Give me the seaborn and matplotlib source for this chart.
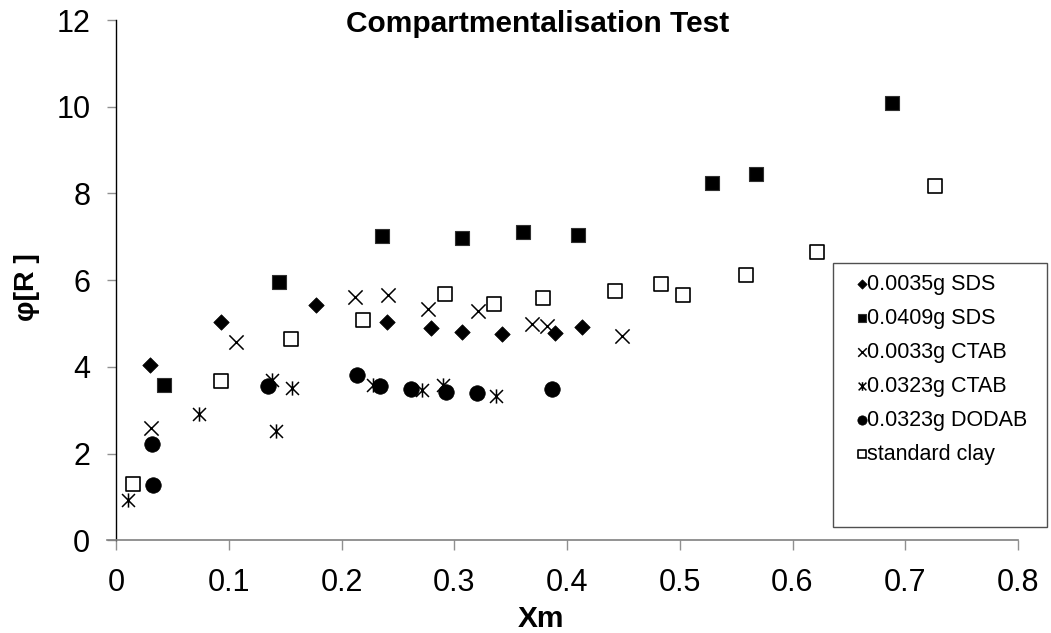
import matplotlib
matplotlib.use("Agg")
import matplotlib.pyplot as plt
import seaborn as sns
import numpy as np
import pandas as pd
from matplotlib.path import Path
from matplotlib.patches import Rectangle

# ---------------- data ----------------
series_labels = ["0.0035g SDS", "0.0409g SDS", "0.0033g CTAB",
                 "0.0323g CTAB", "0.0323g DODAB", "standard clay"]

sds_low_x = [0.030, 0.093, 0.177, 0.240, 0.279, 0.307, 0.342, 0.389, 0.413]
sds_low_y = [4.05, 5.04, 5.43, 5.04, 4.89, 4.80, 4.76, 4.78, 4.93]

sds_high_x = [0.043, 0.145, 0.236, 0.307, 0.361, 0.410, 0.529, 0.568, 0.688]
sds_high_y = [3.58, 5.95, 7.01, 6.98, 7.11, 7.03, 8.24, 8.44, 10.09]

ctab_low_x = [0.031, 0.106, 0.212, 0.241, 0.277, 0.321, 0.369, 0.382, 0.449]
ctab_low_y = [2.60, 4.58, 5.60, 5.66, 5.33, 5.29, 4.99, 4.95, 4.71]

ctab_high_x = [0.011, 0.074, 0.138, 0.142, 0.156, 0.228, 0.271, 0.290, 0.337]
ctab_high_y = [0.93, 2.91, 3.70, 2.51, 3.51, 3.59, 3.47, 3.59, 3.33]

dodab_x = [0.032, 0.033, 0.135, 0.2135, 0.234, 0.262, 0.293, 0.320, 0.387]
dodab_y = [2.21, 1.28, 3.56, 3.81, 3.56, 3.48, 3.41, 3.39, 3.48]

clay_x = [0.015, 0.093, 0.155, 0.2195, 0.292, 0.335, 0.379, 0.443, 0.483,
          0.503, 0.559, 0.622, 0.726]
clay_y = [1.31, 3.68, 4.64, 5.08, 5.68, 5.45, 5.58, 5.76, 5.91,
          5.65, 6.12, 6.65, 8.16]

x_ticks = [0, 0.1, 0.2, 0.3, 0.4, 0.5, 0.6, 0.7, 0.8]
x_tick_labels = ["0", "0.1", "0.2", "0.3", "0.4", "0.5", "0.6", "0.7", "0.8"]
y_ticks = [0, 2, 4, 6, 8, 10, 12]
y_tick_labels = ["0", "2", "4", "6", "8", "10", "12"]

title_text = "Compartmentalisation Test"
x_label = "Xm"
y_label = "φ[R ]"

# ---------------- style ----------------
sns.set_style("white")
plt.rcParams["font.family"] = ["Liberation Sans", "DejaVu Sans"]
plt.rcParams["text.color"] = "black"
plt.rcParams["xtick.labelcolor"] = "black"
plt.rcParams["ytick.labelcolor"] = "black"

W, H = 1051, 633
fig = plt.figure(figsize=(W / 100, H / 100), dpi=100)
ax = fig.add_axes([116 / W, 1 - 540.3 / H, (1018 - 116) / W, (540.3 - 20) / H])

asterisk = Path([(-0.5, -0.5), (0.5, 0.5), (-0.5, 0.5), (0.5, -0.5), (0, -0.55), (0, 0.55)],
                [Path.MOVETO, Path.LINETO, Path.MOVETO, Path.LINETO, Path.MOVETO, Path.LINETO])

sns.scatterplot(x=sds_low_x, y=sds_low_y, marker="D", s=62, color="black",
                edgecolor="black", linewidth=0.5, label=series_labels[0], ax=ax, zorder=3)
sns.scatterplot(x=sds_high_x, y=sds_high_y, marker="s", s=105, color="black",
                edgecolor="#303030", linewidth=0.8, label=series_labels[1], ax=ax, zorder=3)
sns.scatterplot(x=ctab_low_x, y=ctab_low_y, marker="x", s=105, color="black",
                linewidth=1.1, label=series_labels[2], ax=ax, zorder=3)
sns.scatterplot(x=ctab_high_x, y=ctab_high_y, marker=asterisk, s=105, color="black",
                edgecolor="black", linewidth=1.1, label=series_labels[3], ax=ax, zorder=3)
sns.scatterplot(x=dodab_x, y=dodab_y, marker="o", s=125, color="black",
                edgecolor="black", linewidth=0.5, label=series_labels[4], ax=ax, zorder=3)
sns.scatterplot(x=clay_x, y=clay_y, marker="s", s=90, color="white",
                edgecolor="black", linewidth=1.2, label=series_labels[5], ax=ax, zorder=3)

ax.set_xlim(0, 0.8)
ax.set_ylim(0, 12)
ax.set_xticks(x_ticks)
ax.set_xticklabels(x_tick_labels)
ax.set_yticks(y_ticks)
ax.set_yticklabels(y_tick_labels)
ax.set_xlabel("")
ax.set_ylabel("")

for side in ["top", "right"]:
    ax.spines[side].set_visible(False)
ax.spines["left"].set_color("black")
ax.spines["left"].set_linewidth(1.0)
ax.spines["bottom"].set_color("#808080")
ax.spines["bottom"].set_linewidth(1.2)
ax.spines["bottom"].set_bounds(-0.008, 0.8)

ax.tick_params(axis="x", direction="out", length=7, width=1.0, color="#909090",
               labelsize=22, pad=13, bottom=True, labelcolor="black")
ax.tick_params(axis="y", direction="out", length=6.5, width=1.0, color="#909090",
               labelsize=22, pad=12, left=True, labelcolor="black")
ax.grid(False)

fig.text(538 / W, 1 - 32.5 / H, title_text, ha="center", va="baseline",
         fontsize=21.5, fontweight="bold", color="black")
fig.text(541 / W, 1 - 627 / H, x_label, ha="center", va="baseline",
         fontsize=21.5, fontweight="bold", color="black")
fig.text(27 / W, 1 - 287 / H, y_label, ha="center", va="center", rotation=90,
         fontsize=20.5, fontweight="bold", color="black")

# legend frame + entries
fig.patches.append(Rectangle((833 / W, 1 - 527 / H), 214 / W, 264 / H,
                             transform=fig.transFigure, fill=False,
                             edgecolor="#505050", linewidth=1.0))
leg = ax.legend(loc="upper left", bbox_to_anchor=(859 / W, 1 - 274 / H),
                bbox_transform=fig.transFigure, frameon=False, fontsize=15.5,
                markerscale=0.6, handlelength=0.3, handletextpad=0.05,
                labelspacing=0.6, borderpad=0, borderaxespad=0)
for t in leg.get_texts():
    t.set_color("black")

fig.savefig("out.png", dpi=100)
